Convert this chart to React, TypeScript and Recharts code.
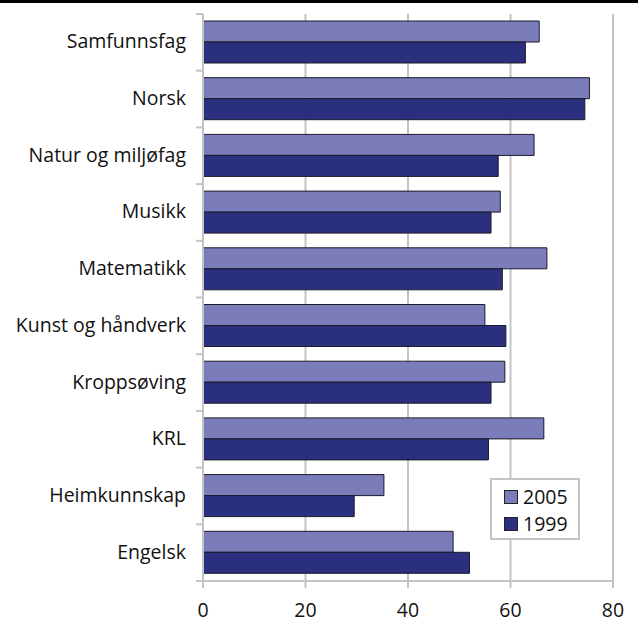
import { Bar, BarChart, CartesianGrid, XAxis, YAxis } from 'recharts';

const subjects = [
  'Samfunnsfag',
  'Norsk',
  'Natur og miljøfag',
  'Musikk',
  'Matematikk',
  'Kunst og håndverk',
  'Kroppsøving',
  'KRL',
  'Heimkunnskap',
  'Engelsk',
];
const values2005 = [65.6, 75.4, 64.6, 58.0, 67.1, 55.0, 58.9, 66.5, 35.3, 48.8];
const values1999 = [62.9, 74.5, 57.6, 56.2, 58.4, 59.1, 56.2, 55.7, 29.5, 52.0];
const xTicks = [0, 20, 40, 60, 80];

const LIGHT = '#7b7cba';
const DARK = '#2a2f7e';
const GREY = '#c4c4c4';
const FONT = '"Open Sans", "Noto Sans", sans-serif';
const FS = 19.5;

const data = subjects.map((name, i) => ({
  name,
  y2005: values2005[i],
  y1999: values1999[i],
}));

// category label at band centre, tick mark on the band boundary
function SubjectTick(props: any) {
  const { x, y, payload, index } = props;
  const half = payload?.offset || 28.4;
  return (
    <g>
      <line x1={x + 1} x2={x + 8} y1={y - half} y2={y - half} stroke={GREY} strokeWidth={2} />
      {index === subjects.length - 1 && (
        <line x1={x + 1} x2={x + 8} y1={y + half} y2={y + half} stroke={GREY} strokeWidth={2} />
      )}
      <text x={x - 9} y={y} dy={6} textAnchor="end" fill="#111" fontSize={FS} fontFamily={FONT}>
        {payload.value}
      </text>
    </g>
  );
}

function LegendBox() {
  const items = [
    { label: '2005', color: LIGHT },
    { label: '1999', color: DARK },
  ];
  return (
    <div
      style={{
        position: 'absolute',
        left: 490,
        top: 478,
        width: 90,
        height: 62,
        border: `2px solid ${GREY}`,
        background: '#fff',
        fontFamily: FONT,
        fontSize: FS,
        color: '#111',
        padding: '3px 0 0 12px',
        boxSizing: 'border-box',
      }}
    >
      {items.map((it) => (
        <div key={it.label} style={{ display: 'flex', alignItems: 'center', height: 27 }}>
          <span
            style={{
              width: 12,
              height: 12,
              background: it.color,
              border: '1px solid #222',
              marginRight: 5,
              display: 'inline-block',
            }}
          />
          {it.label}
        </div>
      ))}
    </div>
  );
}

export default function App() {
  return (
    <div style={{ position: 'absolute', left: 0, top: 0, width: 638, height: 625, background: '#fff' }}>
      <div style={{ position: 'absolute', left: 0, top: 0, width: 638, height: 3, background: '#000' }} />
      <BarChart
        width={638}
        height={625}
        data={data}
        layout="vertical"
        margin={{ top: 14, right: 25, bottom: 14, left: 0 }}
        barGap={0}
        barSize={21}
      >
        <CartesianGrid horizontal={false} stroke={GREY} strokeWidth={2} />
        <XAxis
          type="number"
          domain={[0, 80]}
          ticks={xTicks}
          axisLine={{ stroke: GREY, strokeWidth: 2 }}
          tickLine={{ stroke: GREY, strokeWidth: 2 }}
          tickSize={7}
          tickMargin={15}
          height={30}
          tick={{ fill: '#111', fontSize: FS, fontFamily: FONT }}
        />
        <YAxis
          type="category"
          dataKey="name"
          width={203}
          axisLine={{ stroke: GREY, strokeWidth: 2 }}
          tickLine={false}
          tick={<SubjectTick />}
        />
        <Bar dataKey="y2005" fill={LIGHT} stroke="#1a1a2a" strokeWidth={1} isAnimationActive={false} />
        <Bar dataKey="y1999" fill={DARK} stroke="#1a1a2a" strokeWidth={1} isAnimationActive={false} />
      </BarChart>
      <LegendBox />
    </div>
  );
}
